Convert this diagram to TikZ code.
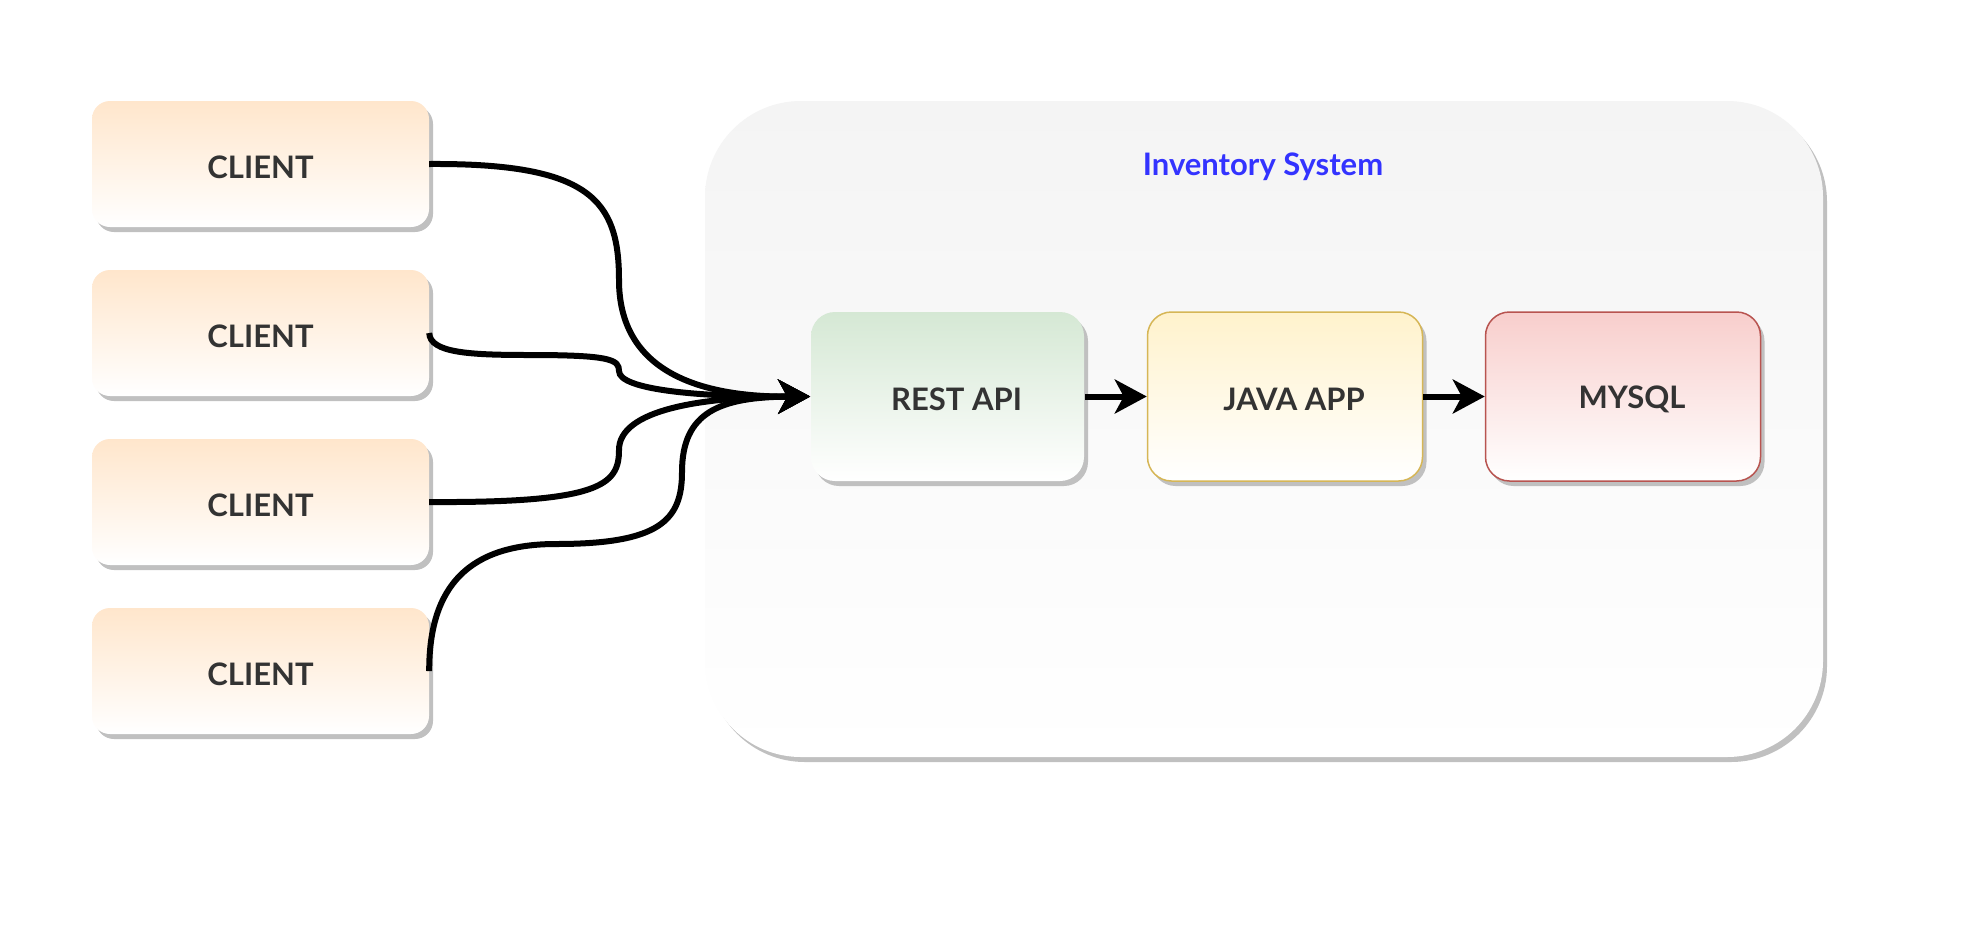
\documentclass[tikz,border=0pt]{standalone}
\usepackage{fontspec}
\setmainfont{Lato}
\usetikzlibrary{arrows.meta,shadows}
\definecolor{txt}{HTML}{333333}
\definecolor{shd}{HTML}{C0C0C0}
\definecolor{peach}{HTML}{FFE6CC}
\definecolor{lgreen}{HTML}{D5E8D4}
\definecolor{lyellow}{HTML}{FFF2CC}
\definecolor{yborder}{HTML}{D6B656}
\definecolor{lred}{HTML}{F8CECC}
\definecolor{rborder}{HTML}{B85450}
\definecolor{cont}{HTML}{F4F4F4}
\definecolor{titleblue}{HTML}{3333FF}
\tikzset{
  boxtext/.style={font=\fontsize{31}{36}\selectfont\bfseries, text=txt},
  myshadow/.style={general shadow={fill=shd, shadow xshift=4pt, shadow yshift=-5pt}},
  clientbox/.style={boxtext, myshadow, rounded corners=18pt, top color=peach, bottom color=white,
    minimum width=337pt, minimum height=126pt, inner sep=0pt},
  compbox/.style={boxtext, myshadow, rounded corners=24pt, bottom color=white,
    minimum width=275pt, minimum height=169pt, inner sep=0pt, line width=1.5pt},
  lbl/.style={boxtext, inner sep=0pt},
  conn/.style={line width=6pt, -{Stealth[length=32pt,width=34pt,inset=9pt]}},
  flow/.style={line width=6pt, -{Stealth[length=32pt,width=34pt,inset=9pt]}}
}
\begin{document}
\begin{tikzpicture}[x=1pt,y=-1pt]
\useasboundingbox[fill=white] (0,0) rectangle (1980,938);
% container
\node[myshadow, rounded corners=96pt, top color=cont, bottom color=white,
  minimum width=1118pt, minimum height=656pt, inner sep=0pt] (sys) at (1264,429) {};
\node[font=\fontsize{31}{36}\selectfont\bfseries, text=titleblue] (title) at (1263,167) {Inventory System};
% clients
\node[clientbox] (c1) at (260.5,164) {};
\node[clientbox] (c2) at (260.5,333) {};
\node[clientbox] (c3) at (260.5,502) {};
\node[clientbox] (c4) at (260.5,671) {};
\node[lbl] (t1) at ([yshift=-3pt]c1.center) {CLIENT};
\node[lbl] (t2) at ([yshift=-3pt]c2.center) {CLIENT};
\node[lbl] (t3) at ([yshift=-3pt]c3.center) {CLIENT};
\node[lbl] (t4) at ([yshift=-3pt]c4.center) {CLIENT};
% components
\node[compbox, top color=lgreen, bottom color=white, minimum width=273pt] (rest) at (947.5,396.5) {};
\node[compbox, top color=lyellow, bottom color=white, draw=yborder] (java) at (1285,396.5) {};
\node[compbox, top color=lred, bottom color=white, draw=rborder] (mysql) at (1623,396.5) {};
\node[lbl] (trest) at ([xshift=9pt,yshift=-3pt]rest.center) {REST API};
\node[lbl] (tjava) at ([xshift=9pt,yshift=-3pt]java.center) {JAVA APP};
\node[lbl] (tmysql) at ([xshift=9pt,yshift=-3pt]mysql.center) {MYSQL};
% connectors
\draw[conn] (c1.east) .. controls (590,163) and (619,200) .. (619,280)
  .. controls (619,372) and (700,397) .. (rest.west);
\draw[conn] (c2.east) .. controls (430,353) and (470,355) .. (530,355)
  .. controls (612,355) and (619,360) .. (619,371)
  .. controls (619,390) and (700,397) .. (rest.west);
\draw[conn] (c3.east) .. controls (600,503) and (619,485) .. (619,450)
  .. controls (619,410) and (700,397) .. (rest.west);
\draw[conn] (c4.east) .. controls (429,585) and (470,544) .. (556,544)
  .. controls (660,544) and (682,520) .. (682,472)
  .. controls (682,412) and (720,397) .. (rest.west);
\draw[flow] (rest.east) -- (java.west);
\draw[flow] (java.east) -- (mysql.west);
\end{tikzpicture}
\end{document}
